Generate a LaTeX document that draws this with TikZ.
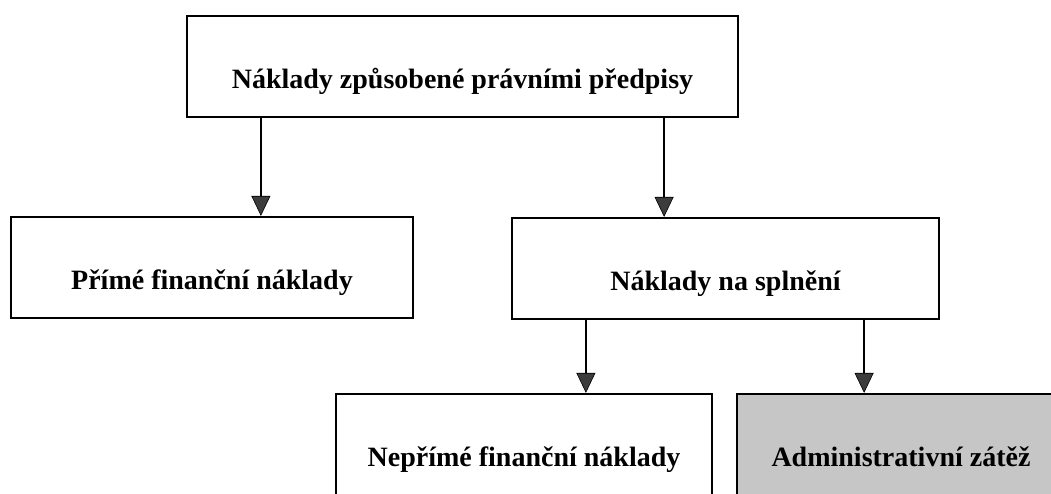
\documentclass[tikz,border=0pt]{standalone}
\usepackage{fontspec}
\setmainfont{Liberation Serif}
\usetikzlibrary{arrows.meta,calc}
\definecolor{boxgray}{RGB}{198,198,198}
\definecolor{tipgray}{RGB}{60,60,60}
\tikzset{
  box/.style={draw=black, line width=2.2pt, fill=white, rectangle, inner sep=0pt,
    font=\fontsize{28}{32}\selectfont\bfseries, text height=43pt, text depth=0pt},
  arr/.style={draw=black, line width=2pt,
    -{Triangle[width=19pt,length=20pt,fill=tipgray,line width=0.6pt]}}
}
\begin{document}
\begin{tikzpicture}[x=1pt,y=-1pt]
\useasboundingbox (0,0) rectangle (1051,493);
\clip (0,0) rectangle (1051,493);
\node[box, minimum width=551pt, minimum height=101pt] (top) at (462.5,66.5) {Náklady způsobené právními předpisy};
\node[box, minimum width=402pt, minimum height=101pt] (left) at (212,267.5) {Přímé finanční náklady};
\node[box, minimum width=427pt, minimum height=101pt] (mid) at (725.5,268.5) {Náklady na splnění};
\node[box, minimum width=376pt, minimum height=101pt] (bl) at (524,444.5) {Nepřímé finanční náklady};
\node[box, fill=boxgray, minimum width=328pt, minimum height=101pt] (br) at (901,444.5) {Administrativní zátěž};
\draw[arr] ([xshift=75pt]top.south west) -- ([xshift=75pt]top.south west |- left.north);
\draw[arr] ([xshift=-75pt]top.south east) -- ([xshift=-75pt]top.south east |- mid.north);
\draw[arr] ([xshift=75pt]mid.south west) -- ([xshift=75pt]mid.south west |- bl.north);
\draw[arr] ([xshift=-76pt]mid.south east) -- ([xshift=-76pt]mid.south east |- br.north);
\end{tikzpicture}
\end{document}
